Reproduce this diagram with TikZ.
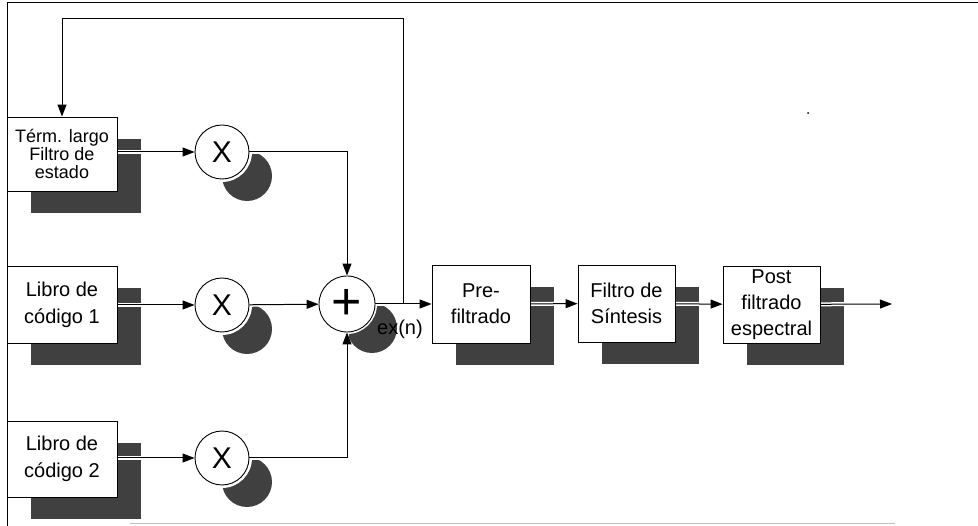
\documentclass[tikz,border=0pt]{standalone}
\usepackage{fontspec}
\setmainfont{Liberation Sans}
\usetikzlibrary{arrows.meta,calc}
\pgfdeclarelayer{bg}
\pgfdeclarelayer{mid}
\pgfsetlayers{bg,mid,main}
\tikzset{
  blk/.style={draw, line width=0.9pt, fill=white, inner sep=0pt, align=center,
    minimum width=110pt, font={\fontsize{20}{27}\selectfont}},
  mul/.style={circle, draw, line width=0.9pt, fill=white, inner sep=0pt,
    minimum size=54pt, font={\fontsize{30}{30}\selectfont}},
  shd/.style={fill=black!75},
  arrnh/.style={line width=1pt, -{Triangle[length=12pt,width=9pt]}},
  arr/.style={arrnh, preaction={draw=white, line width=4pt, -}},
}
\begin{document}
\begin{tikzpicture}[x=1pt,y=-1pt]
\useasboundingbox (0,0) rectangle (978,526);
% frame
\draw[line width=1pt] (7,526) -- (7,3) -- (978,3);
\draw[line width=1pt, black!25] (130,524) -- (895,524);
\fill (808,113) circle (1pt);
% blocks
\node[blk, minimum height=74pt, font={\fontsize{18}{18}\selectfont}] (b1) at (62,154) {Térm. largo\\Filtro de\\estado};
\node[blk, minimum height=77pt] (b2) at (62,304.5) {Libro de\\código 1};
\node[blk, minimum height=76pt] (b3) at (62,459) {Libro de\\código 2};
\node[blk, minimum width=98pt, minimum height=78pt, font={\fontsize{20}{26}\selectfont}] (pre) at (481,304) {Pre-\\filtrado};
\node[blk, minimum width=97pt, minimum height=77pt, font={\fontsize{20}{26}\selectfont}] (fil) at (626.5,303.5) {Filtro de\\Síntesis};
\node[blk, minimum width=97pt, minimum height=77pt, font={\fontsize{20}{26}\selectfont}] (post) at (771.5,304.5) {Post\\filtrado\\espectral};
% multipliers and adder
\node[mul] (x1) at (222,152) {X};
\node[mul] (x2) at (222,305) {X};
\node[mul] (x3) at (222,458) {X};
\node[mul, minimum size=56pt, font={\fontsize{52}{52}\selectfont}] (sum) at (347,304) {+};
\node[anchor=base west, inner sep=0pt, font={\fontsize{20}{20}\selectfont}] (ex) at (377,335) {ex(n)};
\coordinate (out) at (892,304);
\coordinate (j) at ($(sum.east)!.5!(pre.west)$);
% shadows
\begin{pgfonlayer}{bg}
\foreach \n in {b1,b2,b3,pre,fil,post}
  \fill[shd] ([shift={(24,22)}]\n.north west) rectangle ([shift={(24,22)}]\n.south east);
\foreach \n in {x1,x2,x3,sum} {
  \fill[shd] ($(\n)+(25,24)$) circle (25pt);
  \fill[white] (\n) circle (30pt);
}
\end{pgfonlayer}
% connectors
\begin{pgfonlayer}{mid}
\draw[arr] (b1.east |- x1) -- (x1);
\draw[arr] (b2.east |- x2) -- (x2);
\draw[arr] (b3.east |- x3) -- (x3);
\draw[arr] (x1) -| (sum);
\draw[arr] (x2) -- (sum);
\draw[arr] (x3) -| (sum);
\draw[arr] (sum) -- (pre);
\draw[arr] (pre) -- (fil);
\draw[arr] (fil) -- (post);
\draw[arr] (post) -- (out);
\draw[arrnh] (j) -- ++(0,-285) -| (b1.north);
\end{pgfonlayer}
\end{tikzpicture}
\end{document}
